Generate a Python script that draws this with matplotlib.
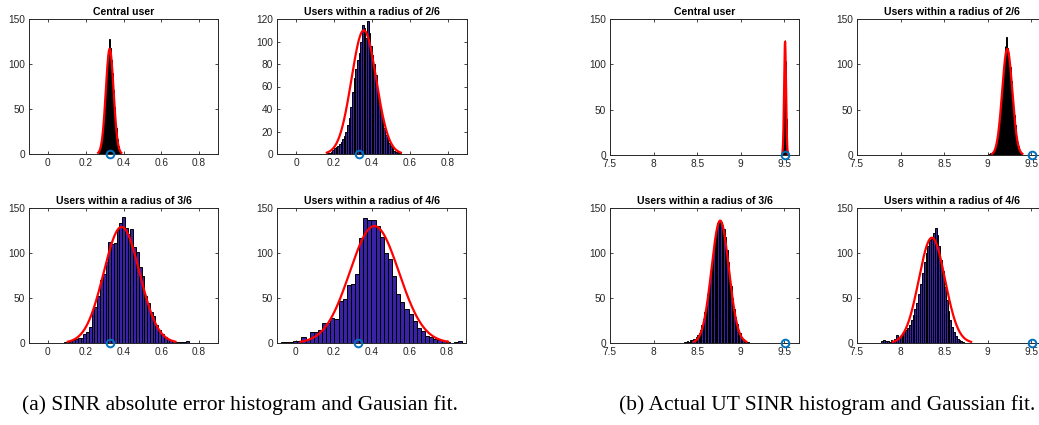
import numpy as np
import matplotlib
matplotlib.use("Agg")
import matplotlib.pyplot as plt

# ---- data ----
# (a) SINR absolute error histograms: bin range, counts, gaussian fit (mu, sigma, peak)
a_titles = ["Central user", "Users within a radius of 2/6",
            "Users within a radius of 3/6", "Users within a radius of 4/6"]
a_ranges = [(0.270, 0.384), (0.165, 0.555), (0.085, 0.745), (-0.080, 0.880)]
a_counts = [
    [2, 3, 5, 7, 13, 15, 24, 27, 38, 41, 57, 61, 78, 82, 97, 100, 112, 110, 128,
     115, 118, 106, 104, 90, 88, 71, 66, 52, 46, 33, 29, 20, 17, 11, 9, 6, 4, 2],
    [1, 1, 2, 4, 5, 6, 7, 9, 11, 13, 16, 20, 26, 32, 42, 55, 68, 76, 84, 90, 100,
     115, 112, 103, 118, 108, 96, 88, 80, 70, 58, 45, 38, 30, 23, 17, 13, 10, 7,
     5, 3, 2, 2, 1, 1],
    [1, 1, 2, 3, 5, 6, 6, 10, 12, 18, 37, 40, 52, 70, 77, 90, 112, 110, 111, 126,
     133, 140, 128, 121, 127, 107, 101, 85, 75, 52, 45, 35, 30, 20, 15, 10, 7, 4,
     3, 2, 1, 1, 1, 1, 2],
    [1, 1, 1, 2, 2, 7, 4, 12, 12, 15, 22, 22, 28, 27, 47, 49, 65, 66, 77, 117, 139,
     137, 137, 130, 118, 100, 93, 75, 55, 46, 38, 32, 25, 17, 13, 8, 7, 5, 3, 2,
     1, 0, 1, 2],
]
a_fit = [(0.327, 0.0205, 117), (0.357, 0.065, 110), (0.39, 0.095, 129), (0.415, 0.13, 130)]
a_ylim = [150, 120, 150, 150]
a_marker = 0.33

# (b) actual UT SINR histograms
b_titles = a_titles
b_ranges = [(9.475, 9.545), (9.000, 9.400), (8.350, 9.100), (7.780, 8.730)]
b_counts = [
    [1, 2, 4, 8, 11, 20, 28, 44, 55, 76, 88, 108, 116, 127, 121, 119, 104, 93, 71,
     58, 40, 30, 18, 12, 6, 4, 2, 1],
    [1, 0, 1, 2, 1, 3, 2, 4, 5, 6, 10, 12, 18, 22, 31, 37, 49, 56, 70, 78, 92, 99,
     120, 112, 130, 118, 112, 106, 101, 97, 82, 73, 64, 50, 44, 33, 27, 19, 14, 10,
     7, 5, 3, 2, 1],
    [1, 1, 2, 1, 3, 3, 4, 5, 7, 9, 11, 15, 20, 27, 34, 43, 55, 68, 80, 93, 106, 118,
     127, 133, 136, 134, 131, 127, 118, 103, 90, 72, 63, 50, 38, 29, 21, 15, 11, 7,
     5, 3, 2, 1, 1],
    [2, 3, 2, 2, 1, 3, 2, 4, 9, 7, 8, 11, 12, 14, 17, 20, 26, 31, 38, 45, 55, 66, 78,
     90, 100, 108, 114, 116, 122, 128, 120, 108, 92, 80, 62, 48, 36, 26, 18, 12, 8,
     5, 3, 2, 1],
]
b_fit = [(9.51, 0.011, 125), (9.225, 0.058, 117), (8.765, 0.10, 136), (8.36, 0.15, 117)]
b_marker = 9.505

captions = ["(a) SINR absolute error histogram and Gausian fit.",
            "(b) Actual UT SINR histogram and Gaussian fit."]

W, H = 1039, 425
fig = plt.figure(figsize=(W / 100, H / 100), dpi=100)

def px_axes(x0, x1, y0, y1):
    return fig.add_axes([x0 / W, 1 - y1 / H, (x1 - x0) / W, (y1 - y0) / H])

bar_color = "#3a22a6"
axis_color = "#262626"

def draw(ax, rng, counts, fit, marker, title, xlim, ylim, xticks, yticks, xlabels):
    n = len(counts)
    w = (rng[1] - rng[0]) / n
    centers = rng[0] + w * (np.arange(n) + 0.5)
    ax.bar(centers, counts, width=w, color=bar_color, edgecolor="black",
           linewidth=0.7, zorder=2)
    mu, sd, peak = fit
    xs = np.linspace(mu - 3 * sd, mu + 3 * sd, 200)
    ax.plot(xs, peak * np.exp(-0.5 * ((xs - mu) / sd) ** 2), color="red", lw=1.6, zorder=3)
    ax.plot([marker], [0], "o", mfc="none", mec="#0072bd", mew=1.4, ms=5.5,
            zorder=4, clip_on=False)
    ax.set_xlim(*xlim)
    ax.set_ylim(0, ylim)
    ax.set_xticks(xticks)
    ax.set_xticklabels(xlabels)
    ax.set_yticks(yticks)
    ax.tick_params(direction="in", length=2.5, width=0.6, labelsize=7.3,
                   colors=axis_color, top=True, right=True, pad=3)
    for s in ax.spines.values():
        s.set_linewidth(0.7)
        s.set_color(axis_color)
    ax.set_title(title, fontsize=7.6, fontweight="bold", pad=3)

plt.rcParams["font.family"] = ["Liberation Sans", "DejaVu Sans"]

a_boxes = [(29, 218, 19, 154), (277, 467, 19, 154), (29, 218, 208, 343), (277, 466, 208, 343)]
b_boxes = [(610, 799, 19, 155), (857, 1046, 19, 155), (610, 799, 208, 343), (857, 1046, 208, 343)]

for i in range(4):
    ax = px_axes(*a_boxes[i])
    yt = np.arange(0, a_ylim[i] + 1, 20 if a_ylim[i] == 120 else 50)
    draw(ax, a_ranges[i], a_counts[i], a_fit[i], a_marker, a_titles[i],
         (-0.1, 0.9), a_ylim[i], [0, 0.2, 0.4, 0.6, 0.8], yt,
         ["0", "0.2", "0.4", "0.6", "0.8"])

for i in range(4):
    ax = px_axes(*b_boxes[i])
    draw(ax, b_ranges[i], b_counts[i], b_fit[i], b_marker, b_titles[i],
         (7.5, 9.67), 150, [7.5, 8, 8.5, 9, 9.5], [0, 50, 100, 150],
         ["7.5", "8", "8.5", "9", "9.5"])

fig.text(240 / W, 1 - 405 / H, captions[0], ha="center", va="center",
         family="Liberation Serif", fontsize=15.5)
fig.text(827 / W, 1 - 405 / H, captions[1], ha="center", va="center",
         family="Liberation Serif", fontsize=15.5)

fig.savefig("out.png", dpi=100)
